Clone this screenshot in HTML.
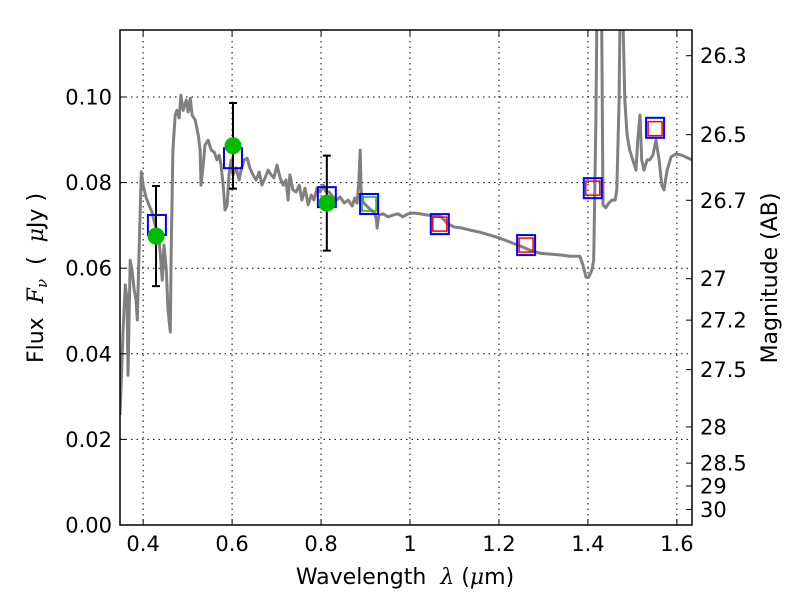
<!DOCTYPE html>
<html><head><meta charset="utf-8"><style>
body{margin:0;background:#fff;}
svg{font-family:"DejaVu Sans","Liberation Sans",sans-serif;}
</style></head><body>
<svg id="chart" width="800" height="600" viewBox="0 0 800 600">
<defs><clipPath id="clip"><rect x="120" y="30" width="572" height="495"/></clipPath></defs>
<g id="grid"></g>
<g id="spec" clip-path="url(#clip)"></g>
<g id="phot" clip-path="url(#clip)"></g>
<rect x="120" y="30" width="572" height="495" fill="none" stroke="#000" stroke-width="1.5"/>
<g id="axes"></g>
<text x="405" y="584" font-size="22" text-anchor="middle">Wavelength&#160;&#160;<tspan font-family="DejaVu Serif" font-style="italic">λ</tspan> (<tspan font-family="DejaVu Serif" font-style="italic">μ</tspan>m)</text>
<text transform="translate(43,278) rotate(-90)" font-size="22" text-anchor="middle">Flux&#160;&#160;<tspan font-family="DejaVu Serif" font-style="italic">F</tspan><tspan font-family="DejaVu Serif" font-style="italic" font-size="15" dy="4">ν</tspan><tspan dy="-4">&#160;&#160;(&#160;&#160;</tspan><tspan font-family="DejaVu Serif" font-style="italic">μ</tspan>Jy )</text>
<text transform="translate(777,278) rotate(-90)" font-size="22" text-anchor="middle">Magnitude (AB)</text>
</svg>
<script>
const specLam=[0.348,0.355,0.360,0.364,0.366,0.371,0.375,0.380,0.384,0.387,0.391,0.396,0.400,0.407,0.413,0.420,0.427,0.434,0.438,0.443,0.447,0.452,0.456,0.461,0.463,0.467,0.472,0.476,0.481,0.485,0.490,0.497,0.501,0.506,0.510,0.517,0.524,0.528,0.530,0.535,0.539,0.546,0.553,0.560,0.566,0.571,0.575,0.580,0.584,0.589,0.593,0.598,0.602,0.609,0.616,0.620,0.627,0.634,0.640,0.647,0.654,0.661,0.667,0.674,0.681,0.688,0.694,0.701,0.708,0.715,0.721,0.726,0.730,0.737,0.744,0.751,0.757,0.764,0.771,0.778,0.784,0.791,0.798,0.805,0.811,0.818,0.825,0.834,0.843,0.852,0.861,0.870,0.876,0.881,0.885,0.888,0.890,0.894,0.903,0.912,0.919,0.924,0.926,0.930,0.939,0.951,0.962,0.973,0.984,0.996,1.007,1.022,1.040,1.058,1.070,1.081,1.090,1.101,1.117,1.135,1.157,1.180,1.202,1.225,1.247,1.270,1.292,1.315,1.337,1.360,1.382,1.389,1.396,1.402,1.409,1.413,1.418,1.420,1.431,1.434,1.440,1.447,1.454,1.461,1.465,1.470,1.472,1.479,1.483,1.488,1.494,1.501,1.508,1.512,1.517,1.521,1.526,1.533,1.539,1.546,1.553,1.560,1.566,1.571,1.578,1.587,1.598,1.611,1.634];
const specFlux=[0.0257,0.0456,0.0561,0.0526,0.0350,0.0619,0.0596,0.0549,0.0526,0.0479,0.0642,0.0825,0.0794,0.0764,0.0748,0.0731,0.0701,0.0677,0.0642,0.0572,0.0654,0.0596,0.0502,0.0451,0.0642,0.0876,0.0958,0.0969,0.0951,0.1004,0.0969,0.0993,0.0965,0.0997,0.0958,0.0946,0.0911,0.0876,0.0794,0.0841,0.0888,0.0899,0.0876,0.0871,0.0853,0.0864,0.0841,0.0794,0.0736,0.0748,0.0818,0.0853,0.0818,0.0834,0.0806,0.0829,0.0853,0.0857,0.0834,0.0818,0.0806,0.0825,0.0794,0.0811,0.0829,0.0818,0.0811,0.0841,0.0811,0.0794,0.0806,0.0759,0.0818,0.0783,0.0778,0.0794,0.0759,0.0787,0.0748,0.0771,0.0759,0.0787,0.0778,0.0794,0.0778,0.0778,0.0769,0.0759,0.0766,0.0752,0.0759,0.0745,0.0764,0.0752,0.0806,0.0876,0.0783,0.0755,0.0745,0.0736,0.0731,0.0717,0.0694,0.0724,0.0727,0.0720,0.0724,0.0727,0.0720,0.0727,0.0729,0.0727,0.0724,0.0722,0.0720,0.0708,0.0701,0.0696,0.0694,0.0689,0.0684,0.0677,0.0670,0.0661,0.0652,0.0642,0.0635,0.0633,0.0631,0.0628,0.0628,0.0607,0.0579,0.0579,0.0596,0.0619,0.0946,0.117,0.117,0.0748,0.0741,0.0752,0.0759,0.0759,0.0783,0.0993,0.117,0.117,0.0993,0.0911,0.0876,0.0853,0.0829,0.0899,0.0958,0.0853,0.0829,0.0853,0.0853,0.0864,0.0899,0.0853,0.0794,0.0783,0.0829,0.0860,0.0867,0.0864,0.0853];
const obsLam=[0.429,0.602,0.813];
const obsFlux=[0.0675,0.0886,0.0752];
const obsErr=[0.0117,0.0100,0.0111];
const modLam=[0.431,0.602,0.813,0.908,1.067,1.261,1.411,1.551];
const modFlux=[0.0701,0.0857,0.0766,0.0750,0.0703,0.0654,0.0787,0.0928];
const fitLam=[0.908,1.067,1.261,1.411,1.551];
const fitFlux=[0.0750,0.0703,0.0654,0.0787,0.0926];
const fitColor=['#22aa22','red','red','red','red'];
const xTicks=[0.4,0.6,0.8,1.0,1.2,1.4,1.6];
const xTickLabels=['0.4','0.6','0.8','1','1.2','1.4','1.6'];
const yTicks=[0,0.02,0.04,0.06,0.08,0.10];
const yTickLabels=['0.00','0.02','0.04','0.06','0.08','0.10'];
const magTicks=[26.3,26.5,26.7,27,27.2,27.5,28,28.5,29,30];

const X0=120,X1=692,Y0=525,Y1=30,LMIN=0.348,LMAX=1.634,FMIN=0,FMAX=0.11565;
const sx=v=>X0+(v-LMIN)/(LMAX-LMIN)*(X1-X0);
const sy=v=>Y0-(v-FMIN)/(FMAX-FMIN)*(Y0-Y1);
const NS='http://www.w3.org/2000/svg';
function mk(tag,attrs,parent){const e=document.createElementNS(NS,tag);for(const k in attrs)e.setAttribute(k,attrs[k]);parent.appendChild(e);return e;}
const grid=document.getElementById('grid'),axes=document.getElementById('axes'),spec=document.getElementById('spec'),phot=document.getElementById('phot');

xTicks.forEach((t,i)=>{const x=sx(t);
 let g=mk('line',{x1:x,x2:x,y1:Y1,y2:Y0,stroke:'#000','stroke-dasharray':'1.5,4','stroke-width':1},grid);
 
 let a=mk('line',{x1:x,x2:x,y1:Y0,y2:Y0-6,stroke:'#000'},axes);
 
 let b=mk('line',{x1:x,x2:x,y1:Y1,y2:Y1+6,stroke:'#000'},axes);
 
 let l=mk('text',{x:x,y:551,'font-size':21,'text-anchor':'middle'},axes);l.textContent=xTickLabels[i];
 
});
yTicks.forEach((t,i)=>{const y=sy(t);
 let g=mk('line',{x1:X0,x2:X1,y1:y,y2:y,stroke:'#000','stroke-dasharray':'1.5,4','stroke-width':1},grid);
 
 let a=mk('line',{x1:X0,x2:X0+6,y1:y,y2:y,stroke:'#000'},axes);
 
 let l=mk('text',{x:112,y:y+7.5,'font-size':21,'text-anchor':'end'},axes);l.textContent=yTickLabels[i];
 
});
magTicks.forEach(m=>{const y=sy(Math.pow(10,(23.9-m)/2.5));
 let a=mk('line',{x1:X1,x2:X1-6,y1:y,y2:y,stroke:'#000'},axes);
 
 let l=mk('text',{x:700,y:y+7.5,'font-size':21},axes);l.textContent=String(m);
 
});
let d=specLam.map((l,i)=>(i?'L':'M')+sx(l).toFixed(1)+','+sy(specFlux[i]).toFixed(1)).join(' ');
let p=mk('path',{d:d,fill:'none',stroke:'#808080','stroke-width':3,'stroke-linejoin':'round'},spec);


modLam.forEach((l,i)=>{const x=sx(l),y=sy(modFlux[i]);
 let r=mk('rect',{x:x-9,y:y-10,width:18,height:20,fill:'none',stroke:'#0000ff','stroke-width':2},phot);
 
});
fitLam.forEach((l,i)=>{const x=sx(l),y=sy(fitFlux[i]);
 let r=mk('rect',{x:x-7,y:y-7,width:14,height:14,fill:'none',stroke:fitColor[i],'stroke-width':1.5},phot);
 
});
obsLam.forEach((l,i)=>{const x=sx(l),y=sy(obsFlux[i]),yt=sy(obsFlux[i]+obsErr[i]),yb=sy(obsFlux[i]-obsErr[i]);
 let e=mk('path',{d:`M${x},${yt}L${x},${yb}M${x-4},${yt}L${x+4},${yt}M${x-4},${yb}L${x+4},${yb}`,stroke:'#000','stroke-width':2,fill:'none'},phot);
 
 let c=mk('circle',{cx:x,cy:y,r:8.5,fill:'#00bb00'},phot);
 
});
</script>
</body></html>
